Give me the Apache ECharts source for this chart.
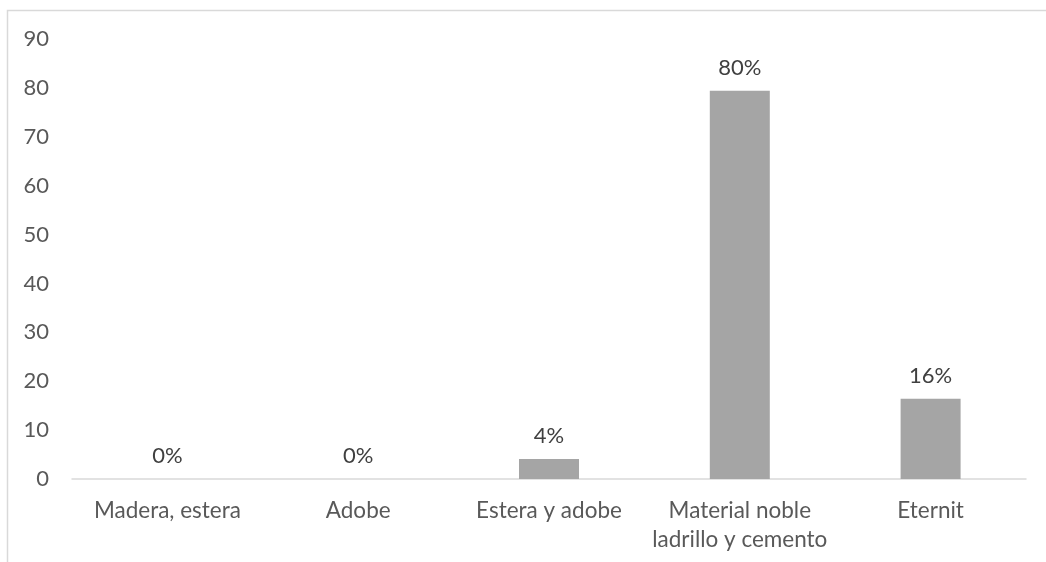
<!DOCTYPE html>
<html>
<head>
<meta charset="utf-8">
<script src="https://cdn.jsdelivr.net/npm/echarts@6/dist/echarts.min.js"></script>
<style>html,body{margin:0;padding:0;background:#fff}#c{width:1046px;height:562px}</style>
</head>
<body>
<div id="c"></div>
<script>
const categories = ['Madera, estera', 'Adobe', 'Estera y adobe', 'Material noble\nladrillo y cemento', 'Eternit'];
const values = [0, 0, 4.1, 79.4, 16.4];
const labels = ['0%', '0%', '4%', '80%', '16%'];
const yTicks = [0, 10, 20, 30, 40, 50, 60, 70, 80, 90];

const chart = echarts.init(document.getElementById('c'));
const font = "Lato, sans-serif";
chart.setOption({
  animation: false,
  graphic: [{
    type: 'rect', silent: true,
    shape: { x: 7.5, y: 10.5, width: 1200, height: 700 },
    style: { fill: null, stroke: '#d9d9d9', lineWidth: 1.5 }
  }],
  grid: { left: 72, right: 20, top: 39, bottom: 83 },
  xAxis: {
    type: 'category', data: categories,
    axisLine: { lineStyle: { color: '#d9d9d9', width: 1.5 } },
    axisTick: { show: false },
    axisLabel: { color: '#595959', fontFamily: font, fontSize: 22.5, margin: 17, lineHeight: 29, interval: 0 }
  },
  yAxis: {
    type: 'value', min: yTicks[0], max: yTicks[yTicks.length - 1], interval: 10,
    axisLine: { show: false }, axisTick: { show: false },
    splitLine: { show: false },
    axisLabel: { color: '#595959', fontFamily: font, fontSize: 22, margin: 23 }
  },
  series: [{
    type: 'bar', data: values, barWidth: 60,
    itemStyle: { color: '#a5a5a5' },
    label: {
      show: true, position: 'top', distance: 12,
      color: '#404040', fontFamily: font, fontSize: 22,
      formatter: p => labels[p.dataIndex]
    }
  }]
});
</script>
</body>
</html>
